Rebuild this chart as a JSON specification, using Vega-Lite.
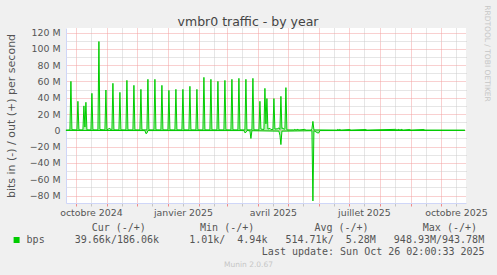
{
  "$schema": "https://vega.github.io/schema/vega-lite/v6.json",
  "width": 400,
  "height": 175,
  "autosize": {"type": "none"},
  "padding": {"left": 66, "top": 28, "right": 31, "bottom": 72},
  "background": "#f0f0f0",
  "config": {
    "view": {"stroke": null, "fill": "#ffffff"},
    "font": "DejaVu Sans",
    "axis": {"labelFont": "DejaVu Sans", "titleFont": "DejaVu Sans", "titleFontWeight": "normal"}
  },
  "title": {
    "text": "vmbr0 traffic - by year",
    "font": "DejaVu Sans",
    "fontSize": 12.5,
    "fontWeight": "normal",
    "color": "#444444",
    "anchor": "middle",
    "frame": "group",
    "baseline": "alphabetic",
    "offset": 4,
    "dx": -18,
    "dy": 37.5
  },
  "datasets": {
    "out": [
      {"date": "2024-09-21", "bps": 300000},
      {"date": "2024-09-25", "bps": 500000},
      {"date": "2024-09-26", "bps": 60100000},
      {"date": "2024-09-27", "bps": 800000},
      {"date": "2024-10-02", "bps": 500000},
      {"date": "2024-10-03", "bps": 35600000},
      {"date": "2024-10-04", "bps": 600000},
      {"date": "2024-10-08", "bps": 500000},
      {"date": "2024-10-09", "bps": 30000000},
      {"date": "2024-10-10", "bps": 4000000},
      {"date": "2024-10-11", "bps": 34400000},
      {"date": "2024-10-12", "bps": 600000},
      {"date": "2024-10-16", "bps": 500000},
      {"date": "2024-10-17", "bps": 45400000},
      {"date": "2024-10-18", "bps": 600000},
      {"date": "2024-10-23", "bps": 500000},
      {"date": "2024-10-24", "bps": 109000000},
      {"date": "2024-10-25", "bps": 1000000},
      {"date": "2024-10-30", "bps": 500000},
      {"date": "2024-10-31", "bps": 49500000},
      {"date": "2024-11-01", "bps": 600000},
      {"date": "2024-11-03", "bps": 2000000},
      {"date": "2024-11-04", "bps": 2500000},
      {"date": "2024-11-05", "bps": 500000},
      {"date": "2024-11-06", "bps": 500000},
      {"date": "2024-11-07", "bps": 57700000},
      {"date": "2024-11-08", "bps": 600000},
      {"date": "2024-11-13", "bps": 500000},
      {"date": "2024-11-14", "bps": 46600000},
      {"date": "2024-11-15", "bps": 600000},
      {"date": "2024-11-20", "bps": 500000},
      {"date": "2024-11-21", "bps": 61300000},
      {"date": "2024-11-22", "bps": 600000},
      {"date": "2024-11-27", "bps": 500000},
      {"date": "2024-11-28", "bps": 55200000},
      {"date": "2024-11-29", "bps": 600000},
      {"date": "2024-12-04", "bps": 500000},
      {"date": "2024-12-05", "bps": 50300000},
      {"date": "2024-12-06", "bps": 600000},
      {"date": "2024-12-11", "bps": 500000},
      {"date": "2024-12-12", "bps": 62600000},
      {"date": "2024-12-13", "bps": 600000},
      {"date": "2024-12-18", "bps": 500000},
      {"date": "2024-12-19", "bps": 62600000},
      {"date": "2024-12-20", "bps": 600000},
      {"date": "2024-12-25", "bps": 500000},
      {"date": "2024-12-26", "bps": 55200000},
      {"date": "2024-12-27", "bps": 600000},
      {"date": "2025-01-01", "bps": 500000},
      {"date": "2025-01-02", "bps": 49000000},
      {"date": "2025-01-03", "bps": 600000},
      {"date": "2025-01-08", "bps": 500000},
      {"date": "2025-01-09", "bps": 50300000},
      {"date": "2025-01-10", "bps": 600000},
      {"date": "2025-01-15", "bps": 500000},
      {"date": "2025-01-16", "bps": 50300000},
      {"date": "2025-01-17", "bps": 600000},
      {"date": "2025-01-22", "bps": 500000},
      {"date": "2025-01-23", "bps": 54000000},
      {"date": "2025-01-24", "bps": 600000},
      {"date": "2025-01-29", "bps": 500000},
      {"date": "2025-01-30", "bps": 50300000},
      {"date": "2025-01-31", "bps": 600000},
      {"date": "2025-02-05", "bps": 500000},
      {"date": "2025-02-06", "bps": 65000000},
      {"date": "2025-02-07", "bps": 600000},
      {"date": "2025-02-12", "bps": 500000},
      {"date": "2025-02-13", "bps": 62600000},
      {"date": "2025-02-14", "bps": 600000},
      {"date": "2025-02-19", "bps": 500000},
      {"date": "2025-02-20", "bps": 60100000},
      {"date": "2025-02-21", "bps": 600000},
      {"date": "2025-02-26", "bps": 500000},
      {"date": "2025-02-27", "bps": 61300000},
      {"date": "2025-02-28", "bps": 600000},
      {"date": "2025-03-05", "bps": 500000},
      {"date": "2025-03-06", "bps": 62600000},
      {"date": "2025-03-07", "bps": 600000},
      {"date": "2025-03-12", "bps": 500000},
      {"date": "2025-03-13", "bps": 63800000},
      {"date": "2025-03-14", "bps": 600000},
      {"date": "2025-03-19", "bps": 500000},
      {"date": "2025-03-20", "bps": 62600000},
      {"date": "2025-03-21", "bps": 600000},
      {"date": "2025-03-26", "bps": 500000},
      {"date": "2025-03-27", "bps": 63800000},
      {"date": "2025-03-28", "bps": 600000},
      {"date": "2025-04-02", "bps": 500000},
      {"date": "2025-04-03", "bps": 35600000},
      {"date": "2025-04-04", "bps": 1500000},
      {"date": "2025-04-07", "bps": 1000000},
      {"date": "2025-04-08", "bps": 51500000},
      {"date": "2025-04-09", "bps": 8000000},
      {"date": "2025-04-10", "bps": 39000000},
      {"date": "2025-04-11", "bps": 1500000},
      {"date": "2025-04-13", "bps": 2500000},
      {"date": "2025-04-14", "bps": 1000000},
      {"date": "2025-04-16", "bps": 1000000},
      {"date": "2025-04-17", "bps": 39000000},
      {"date": "2025-04-18", "bps": 1500000},
      {"date": "2025-04-21", "bps": 2000000},
      {"date": "2025-04-22", "bps": 3000000},
      {"date": "2025-04-23", "bps": 1000000},
      {"date": "2025-04-24", "bps": 41700000},
      {"date": "2025-04-25", "bps": 2000000},
      {"date": "2025-04-26", "bps": 3000000},
      {"date": "2025-04-27", "bps": 1000000},
      {"date": "2025-04-28", "bps": 2000000},
      {"date": "2025-04-29", "bps": 52400000},
      {"date": "2025-04-30", "bps": 500000},
      {"date": "2025-05-07", "bps": 500000},
      {"date": "2025-05-08", "bps": 1200000},
      {"date": "2025-05-09", "bps": 400000},
      {"date": "2025-05-11", "bps": 1200000},
      {"date": "2025-05-12", "bps": 400000},
      {"date": "2025-05-18", "bps": 1200000},
      {"date": "2025-05-19", "bps": 300000},
      {"date": "2025-05-24", "bps": 300000},
      {"date": "2025-05-25", "bps": 2000000},
      {"date": "2025-05-26", "bps": 11000000},
      {"date": "2025-05-27", "bps": 500000},
      {"date": "2025-06-19", "bps": 300000},
      {"date": "2025-06-20", "bps": 1200000},
      {"date": "2025-06-21", "bps": 300000},
      {"date": "2025-06-22", "bps": 1200000},
      {"date": "2025-06-23", "bps": 300000},
      {"date": "2025-07-02", "bps": 1000000},
      {"date": "2025-07-03", "bps": 300000},
      {"date": "2025-07-18", "bps": 1000000},
      {"date": "2025-07-19", "bps": 300000},
      {"date": "2025-08-17", "bps": 1200000},
      {"date": "2025-08-18", "bps": 400000},
      {"date": "2025-08-20", "bps": 1200000},
      {"date": "2025-08-21", "bps": 400000},
      {"date": "2025-08-23", "bps": 1200000},
      {"date": "2025-08-24", "bps": 300000},
      {"date": "2025-08-31", "bps": 1000000},
      {"date": "2025-09-01", "bps": 300000},
      {"date": "2025-09-14", "bps": 1000000},
      {"date": "2025-09-15", "bps": 300000},
      {"date": "2025-10-25", "bps": 200000}
    ],
    "in": [
      {"date": "2024-09-21", "bps": -100000},
      {"date": "2024-12-09", "bps": -300000},
      {"date": "2024-12-10", "bps": -4000000},
      {"date": "2024-12-11", "bps": -3500000},
      {"date": "2024-12-12", "bps": -300000},
      {"date": "2025-03-18", "bps": -300000},
      {"date": "2025-03-19", "bps": -3000000},
      {"date": "2025-03-20", "bps": -2500000},
      {"date": "2025-03-21", "bps": -300000},
      {"date": "2025-03-24", "bps": -500000},
      {"date": "2025-03-25", "bps": -10000000},
      {"date": "2025-03-26", "bps": -500000},
      {"date": "2025-04-22", "bps": -1000000},
      {"date": "2025-04-23", "bps": -6000000},
      {"date": "2025-04-24", "bps": -17500000},
      {"date": "2025-04-25", "bps": -1000000},
      {"date": "2025-05-25", "bps": -500000},
      {"date": "2025-05-26", "bps": -86700000},
      {"date": "2025-05-27", "bps": -500000},
      {"date": "2025-05-31", "bps": -3300000},
      {"date": "2025-06-01", "bps": -3000000},
      {"date": "2025-06-02", "bps": -300000},
      {"date": "2025-10-25", "bps": -100000}
    ]
  },
  "resolve": {
    "scale": {"x": "independent", "y": "independent"},
    "axis": {"x": "independent", "y": "independent"}
  },
  "layer": [
    {
      "data": {"name": "in"},
      "mark": {"type": "line", "color": "#00cc00", "strokeWidth": 1},
      "encoding": {
        "x": {
          "field": "date", "type": "temporal",
          "scale": {"type": "utc", "domain": [{"year": 2024, "month": 9, "date": 21, "hours": 2, "utc": true}, {"year": 2025, "month": 10, "date": 26, "hours": 2, "utc": true}]},
          "axis": {
            "orient": "bottom",
            "values": [
              {"year": 2024, "month": 10, "date": 16, "utc": true},
              {"year": 2024, "month": 11, "date": 16, "utc": true},
              {"year": 2024, "month": 12, "date": 16, "utc": true},
              {"year": 2025, "month": 1, "date": 16, "utc": true},
              {"year": 2025, "month": 2, "date": 16, "utc": true},
              {"year": 2025, "month": 3, "date": 16, "utc": true},
              {"year": 2025, "month": 4, "date": 16, "utc": true},
              {"year": 2025, "month": 5, "date": 16, "utc": true},
              {"year": 2025, "month": 6, "date": 16, "utc": true},
              {"year": 2025, "month": 7, "date": 16, "utc": true},
              {"year": 2025, "month": 8, "date": 16, "utc": true},
              {"year": 2025, "month": 9, "date": 16, "utc": true},
              {"year": 2025, "month": 10, "date": 16, "utc": true}
            ],
            "grid": true, "gridColor": "#cccccc", "gridDash": [1, 1], "gridWidth": 1,
            "ticks": true, "tickColor": "#c4c4c4", "tickSize": 3,
            "domain": false,
            "labels": true,
            "labelExpr": "utcmonth(datum.value) % 3 == 0 ? ['janvier','février','mars','avril','mai','juin','juillet','août','septembre','octobre','novembre','décembre'][utcmonth(datum.value)] + ' ' + utcyear(datum.value) : ''",
            "labelFontSize": 9.4, "labelColor": "#555555", "labelPadding": 2,
            "labelOverlap": false, "labelFlush": false, "labelBound": false,
            "title": "Munin 2.0.67",
            "titleFontSize": 7.5, "titleColor": "#c6c6c6",
            "titleX": 182, "titleY": 63.7, "titleAlign": "center", "titleBaseline": "alphabetic"
          }
        },
        "y": {
          "field": "bps", "type": "quantitative",
          "scale": {"domain": [-89200000, 125600000], "nice": false, "zero": false},
          "axis": {
            "orient": "right",
            "values": [-70000000, -50000000, -30000000, -10000000, 10000000, 30000000, 50000000, 70000000, 90000000, 110000000],
            "grid": true, "gridColor": "#cccccc", "gridDash": [1, 1], "gridWidth": 1,
            "ticks": false, "labels": false, "domain": false,
            "title": "RRDTOOL / TOBI OETIKER",
            "titleAngle": 90, "titleFontSize": 7.5, "titleColor": "#c6c6c6",
            "titleX": 20, "titleY": 25, "titleAlign": "center", "titleBaseline": "middle"
          }
        }
      }
    },
    {
      "data": {"name": "in"},
      "mark": {"type": "area", "color": "#00cc00", "opacity": 0.3},
      "encoding": {
        "x": {"field": "date", "type": "temporal", "scale": {"type": "utc", "domain": [{"year": 2024, "month": 9, "date": 21, "hours": 2, "utc": true}, {"year": 2025, "month": 10, "date": 26, "hours": 2, "utc": true}]}, "axis": null},
        "y": {"field": "bps", "type": "quantitative", "scale": {"domain": [-89200000, 125600000], "nice": false, "zero": false}, "axis": null}
      }
    },
    {
      "data": {"name": "out"},
      "mark": {"type": "area", "color": "#00cc00", "opacity": 0.3},
      "encoding": {
        "x": {"field": "date", "type": "temporal", "scale": {"type": "utc", "domain": [{"year": 2024, "month": 9, "date": 21, "hours": 2, "utc": true}, {"year": 2025, "month": 10, "date": 26, "hours": 2, "utc": true}]}, "axis": null},
        "y": {"field": "bps", "type": "quantitative", "scale": {"domain": [-89200000, 125600000], "nice": false, "zero": false}, "axis": null}
      }
    },
    {
      "data": {"name": "out"},
      "mark": {"type": "line", "strokeWidth": 1},
      "encoding": {
        "x": {
          "field": "date", "type": "temporal",
          "scale": {"type": "utc", "domain": [{"year": 2024, "month": 9, "date": 21, "hours": 2, "utc": true}, {"year": 2025, "month": 10, "date": 26, "hours": 2, "utc": true}]},
          "axis": {
            "orient": "bottom",
            "values": [
              {"year": 2024, "month": 10, "date": 1, "utc": true},
              {"year": 2024, "month": 11, "date": 1, "utc": true},
              {"year": 2024, "month": 12, "date": 1, "utc": true},
              {"year": 2025, "month": 1, "date": 1, "utc": true},
              {"year": 2025, "month": 2, "date": 1, "utc": true},
              {"year": 2025, "month": 3, "date": 1, "utc": true},
              {"year": 2025, "month": 4, "date": 1, "utc": true},
              {"year": 2025, "month": 5, "date": 1, "utc": true},
              {"year": 2025, "month": 6, "date": 1, "utc": true},
              {"year": 2025, "month": 7, "date": 1, "utc": true},
              {"year": 2025, "month": 8, "date": 1, "utc": true},
              {"year": 2025, "month": 9, "date": 1, "utc": true},
              {"year": 2025, "month": 10, "date": 1, "utc": true}
            ],
            "grid": true, "gridColor": "#f2a0a0", "gridDash": [1, 1], "gridWidth": 1,
            "ticks": true, "tickColor": "#f08a8a", "tickSize": 3,
            "domain": true, "domainColor": "#cfd6f8", "domainWidth": 1,
            "labels": false,
            "title": "Cur\u00a0(-/+)\u00a0\u00a0\u00a0\u00a0\u00a0\u00a0\u00a0\u00a0\u00a0Min\u00a0(-/+)\u00a0\u00a0\u00a0\u00a0\u00a0\u00a0\u00a0\u00a0\u00a0\u00a0Avg\u00a0(-/+)\u00a0\u00a0\u00a0\u00a0\u00a0\u00a0\u00a0\u00a0\u00a0Max\u00a0(-/+)",
            "titleFont": "DejaVu Sans Mono", "titleFontSize": 10, "titleColor": "#555555",
            "titleAlign": "right", "titleBaseline": "alphabetic",
            "titleX": 410.5, "titleY": 27.5, "titleLimit": 1000
          }
        },
        "y": {
          "field": "bps", "type": "quantitative",
          "scale": {"domain": [-89200000, 125600000], "nice": false, "zero": false},
          "axis": {
            "orient": "left",
            "values": [-80000000, -60000000, -40000000, -20000000, 0, 20000000, 40000000, 60000000, 80000000, 100000000, 120000000],
            "grid": true, "gridColor": "#f2a0a0", "gridDash": [1, 1], "gridWidth": 1,
            "ticks": false,
            "domain": true, "domainColor": "#cfd6f8", "domainWidth": 1,
            "labelExpr": "datum.value == 0 ? '0\u00a0\u00a0' : format(datum.value / 1000000, 'd') + ' M'",
            "labelFontSize": 9.4, "labelColor": "#555555", "labelPadding": 6,
            "title": "bits in (-) / out (+) per second",
            "titleFontSize": 11, "titleColor": "#555555",
            "titleAngle": -90, "titleX": -55, "titleY": 87.5, "titleAlign": "center", "titleBaseline": "middle"
          }
        },
        "color": {
          "datum": "bps",
          "scale": {"range": ["#00cc00"]},
          "legend": {
            "orient": "none", "legendX": -54.4, "legendY": 207,
            "title": "Last update: Sun Oct 26 02:00:33 2025",
            "titleOrient": "bottom", "titleAnchor": "end", "titleAlign": "right",
            "titleFont": "DejaVu Sans Mono", "titleFontSize": 10, "titleFontWeight": "normal",
            "titleColor": "#555555", "titleLimit": 1000, "titlePadding": 2,
            "padding": 0,
            "symbolType": "square", "symbolSize": 36, "symbolStrokeWidth": 0,
            "labelFont": "DejaVu Sans Mono", "labelFontSize": 10, "labelColor": "#555555",
            "labelLimit": 1000, "labelOffset": 5,
            "labelExpr": "'bps\u00a0\u00a0\u00a0\u00a0\u00a039.66k/186.06k\u00a0\u00a0\u00a0\u00a0\u00a01.01k/\u00a0\u00a04.94k\u00a0\u00a0\u00a0514.71k/\u00a0\u00a05.28M\u00a0\u00a0\u00a0948.93M/943.78M'",
            "encode": {"symbols": {"update": {"fill": {"value": "#00cc00"}, "stroke": {"value": "#00cc00"}, "opacity": {"value": 1}}}}
          }
        }
      }
    },
    {
      "mark": {"type": "rule", "color": "#000000", "strokeWidth": 1},
      "encoding": {
        "y": {"datum": 0, "type": "quantitative", "scale": {"domain": [-89200000, 125600000], "nice": false, "zero": false}, "axis": null}
      }
    }
  ]
}
